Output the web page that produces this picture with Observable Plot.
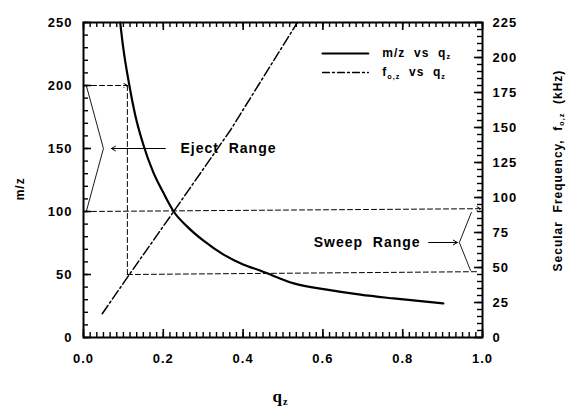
<!DOCTYPE html>
<html>
<head>
<meta charset="utf-8">
<script src="https://cdn.jsdelivr.net/npm/d3@7"></script>
<script src="https://cdn.jsdelivr.net/npm/@observablehq/plot@0.6"></script>
<style>
  html, body { margin: 0; padding: 0; background: #fff; }
</style>
</head>
<body>
<div id="chart"></div>
<script>
// ---- data ----
const qMz = [0.092, 0.10, 0.115, 0.13, 0.15, 0.175, 0.2, 0.226, 0.26, 0.3, 0.35, 0.4, 0.444, 0.527, 0.61, 0.694, 0.777, 0.902];
const mzValues = [250, 229, 200, 176, 153, 131, 115, 100, 88, 77, 66, 58, 53, 43, 38, 34, 31, 27];
const qFreq = [0.047, 0.115, 0.226, 0.368, 0.536];
const freqValues = [17, 45, 90, 148, 225]; // kHz

const xTicks = [0.0, 0.2, 0.4, 0.6, 0.8, 1.0];
const yLeftTicks = [0, 50, 100, 150, 200, 250];
const yRightTicks = [0, 25, 50, 75, 100, 125, 150, 175, 200, 225];

// annotations
const ejectMz = [200, 100];     // m/z eject range
const ejectQ = 0.11;            // q at eject limit
const sweepF = [92, 47];        // kHz sweep range
const sweepMzLeft = [100, 50];  // m/z where sweep lines start

const Y_MAX = 250, F_MAX = 225;
const f2y = f => f * Y_MAX / F_MAX;

const curve = qMz.map((q, i) => ({q, mz: mzValues[i]}));
const freq = qFreq.map((q, i) => ({q, f: freqValues[i]}));

const W = 566, H = 410, mL = 83, mR = 84, mT = 22, mB = 73;
const pw = W - mL - mR, ph = H - mT - mB;
// tick lengths converted to data units
const tx = px => px / pw;          // horizontal length in q units
const ty = px => px * Y_MAX / ph;  // vertical length in m/z units

const xMinor = d3.range(0, 1.0001, 1/60);
const yMinor = d3.range(0, 250.1, 10);
const fMinor = d3.range(0, 225.1, 5);

const dash = "5,3";

const plot = Plot.plot({
  width: W, height: H,
  marginLeft: mL, marginRight: mR, marginTop: mT, marginBottom: mB,
  x: {domain: [0, 1]},
  y: {domain: [0, Y_MAX]},
  style: {fontFamily: "Liberation Sans, Arial, sans-serif", fontWeight: "bold", background: "#fff", color: "#000", letterSpacing: "1px"},
  marks: [
    // ticks (inward)
    Plot.ruleX(xMinor, {x: d => d, y1: 0, y2: ty(5), strokeWidth: 1.4}),
    Plot.ruleX(xTicks, {x: d => d, y1: 0, y2: ty(8), strokeWidth: 1.6}),
    Plot.ruleX(xMinor, {x: d => d, y1: Y_MAX - ty(5), y2: Y_MAX, strokeWidth: 1.4}),
    Plot.ruleX(xTicks, {x: d => d, y1: Y_MAX - ty(8), y2: Y_MAX, strokeWidth: 1.6}),
    Plot.ruleY(yMinor, {y: d => d, x1: 0, x2: tx(5), strokeWidth: 1.4}),
    Plot.ruleY(yLeftTicks, {y: d => d, x1: 0, x2: tx(8), strokeWidth: 1.6}),
    Plot.ruleY(fMinor, {y: d => f2y(d), x1: 1 - tx(5), x2: 1, strokeWidth: 1.4}),
    Plot.ruleY(yRightTicks, {y: d => f2y(d), x1: 1 - tx(8), x2: 1, strokeWidth: 1.6}),
    Plot.frame({strokeWidth: 2}),
    // axes labels
    Plot.axisX(xTicks, {tickSize: 0, tickPadding: 16, tickFormat: d3.format(".1f"), label: null, fontSize: 13}),
    Plot.axisY(yLeftTicks, {anchor: "left", tickSize: 0, tickPadding: 11, label: null, fontSize: 13}),
    Plot.axisY(yRightTicks.map(f2y), {anchor: "right", tickSize: 0, tickPadding: 10, label: null, fontSize: 13,
      tickFormat: v => String(Math.round(v * F_MAX / Y_MAX))}),
    // eject guides
    Plot.arrow([0], {x1: 0, y1: ejectMz[0], x2: ejectQ, y2: ejectMz[0], strokeDasharray: dash, strokeWidth: 1, headLength: 6}),
    Plot.line([[ejectQ, ejectMz[0]], [ejectQ, sweepMzLeft[1]]], {strokeDasharray: dash, strokeWidth: 1}),
    Plot.arrow([0], {x1: 0, y1: sweepMzLeft[0], x2: 0.995, y2: f2y(sweepF[0]), strokeDasharray: dash, strokeWidth: 1, headLength: 6}),
    Plot.line([[ejectQ, sweepMzLeft[1]], [0.985, f2y(sweepF[1])]], {strokeDasharray: dash, strokeWidth: 1}),
    // eject bracket + arrow + text
    Plot.line([[0.007, ejectMz[0]], [0.05, (ejectMz[0] + ejectMz[1]) / 2], [0.007, ejectMz[1]]], {strokeWidth: 0.9}),
    Plot.arrow([0], {x1: 0.205, y1: 150, x2: 0.07, y2: 150, strokeWidth: 1, headLength: 7}),
    Plot.text(["Eject  Range"], {x: 0.243, y: 150, textAnchor: "start", fontSize: 14, fontWeight: 600}),
    // sweep bracket + arrow + text
    Plot.line([[0.972, f2y(sweepF[0]) - 3], [0.942, 75.4], [0.97, f2y(sweepF[1]) + 1]], {strokeWidth: 0.9}),
    Plot.arrow([0], {x1: 0.865, y1: 75.4, x2: 0.937, y2: 75.4, strokeWidth: 1, headLength: 7}),
    Plot.text(["Sweep  Range"], {x: 0.845, y: 75.4, textAnchor: "end", fontSize: 14, fontWeight: 600}),
    // series
    Plot.line(freq, {x: "q", y: d => f2y(d.f), strokeWidth: 1.5, strokeDasharray: "10,3,2,3"}),
    Plot.line(curve, {x: "q", y: "mz", strokeWidth: 2.2, curve: "monotone-x"}),
    // legend
    Plot.line([[0.599, 225.4], [0.714, 225.4]], {strokeWidth: 2}),
    Plot.line([[0.599, 210.3], [0.714, 210.3]], {strokeWidth: 1.3, strokeDasharray: "7,3,2,3"}),
    Plot.text(["m/z  vs  q{z}"], {x: 0.749, y: 225.4, textAnchor: "start", fontSize: 12}),
    Plot.text(["f{o,z}  vs  q{z}"], {x: 0.749, y: 210.3, textAnchor: "start", fontSize: 12}),
    // axis titles
    Plot.text(["m/z"], {x: -0.158, y: 118, rotate: -90, fontSize: 12}),
    Plot.text(["q{z}"], {x: 0.494, y: -47, fontSize: 17, fontFamily: "Liberation Serif, serif"}),
    Plot.text(["Secular  Frequency,  f{o,z}  (kHz)"], {x: 1.19, y: 132.5, rotate: -90, fontSize: 12})
  ]
});

// subscripts: convert "{...}" segments into tspans
d3.select(plot).selectAll("text").each(function() {
  const el = this;
  if (el.querySelector("tspan")) return;
  const t = el.textContent;
  if (!t.includes("{")) return;
  el.textContent = "";
  const parts = t.split(/(\{[^}]*\})/).filter(s => s.length);
  let sub = false;
  for (const p of parts) {
    const ts = document.createElementNS("http://www.w3.org/2000/svg", "tspan");
    if (p.startsWith("{")) {
      ts.textContent = p.slice(1, -1);
      ts.setAttribute("font-size", "0.6em");
      ts.setAttribute("dy", "0.3em");
      sub = true;
    } else {
      ts.textContent = p;
      if (sub) { ts.setAttribute("dy", "-0.18em"); sub = false; }
    }
    el.appendChild(ts);
  }
});
d3.select(plot).selectAll("text").each(function() {
  if (this.textContent.includes("  ")) { this.setAttribute("xml:space", "preserve"); this.style.whiteSpace = "pre"; }
});

document.getElementById("chart").appendChild(plot);
</script>
</body>
</html>
